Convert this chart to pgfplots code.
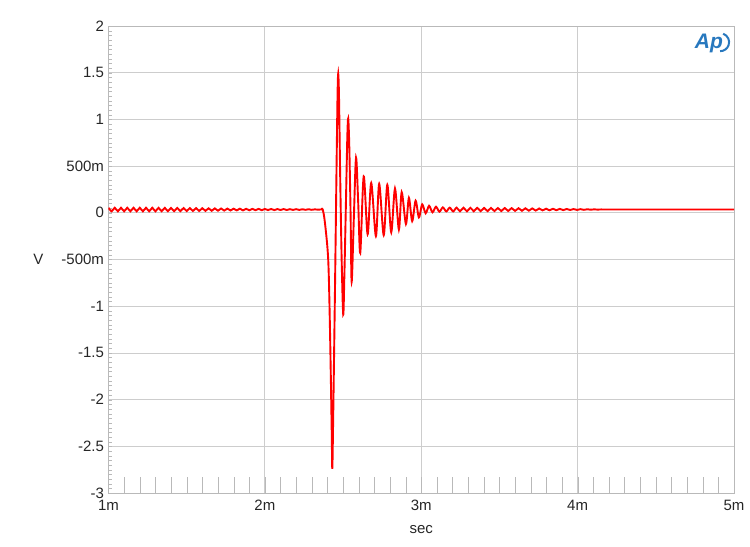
\documentclass[border=0pt]{standalone}
\usepackage{pgfplots}
\pgfplotsset{compat=1.18}
\usepackage{fontspec}
\setmainfont{Liberation Sans}
\definecolor{apblue}{RGB}{40,120,190}
\definecolor{gridgray}{RGB}{205,205,205}
\definecolor{framegray}{RGB}{185,185,185}
\pgfplotstableread{
t v
1.00 0.054
1.02 0.016
1.04 0.054
1.06 0.016
1.08 0.054
1.10 0.016
1.12 0.054
1.14 0.016
1.16 0.054
1.18 0.016
1.20 0.054
1.22 0.016
1.24 0.054
1.26 0.016
1.28 0.054
1.30 0.016
1.32 0.053
1.34 0.017
1.36 0.053
1.38 0.017
1.40 0.052
1.42 0.018
1.44 0.052
1.46 0.018
1.48 0.051
1.50 0.019
1.52 0.050
1.54 0.020
1.56 0.050
1.58 0.020
1.60 0.049
1.62 0.021
1.64 0.048
1.66 0.022
1.68 0.047
1.70 0.023
1.72 0.046
1.74 0.024
1.76 0.045
1.78 0.025
1.80 0.044
1.82 0.026
1.84 0.044
1.86 0.026
1.88 0.043
1.90 0.027
1.92 0.042
1.94 0.028
1.96 0.042
1.98 0.028
2.00 0.041
2.02 0.029
2.04 0.041
2.06 0.029
2.08 0.040
2.10 0.030
2.12 0.040
2.14 0.030
2.16 0.039
2.18 0.031
2.20 0.039
2.22 0.031
2.24 0.038
2.26 0.032
2.28 0.038
2.30 0.032
2.32 0.037
2.34 0.033
2.36 0.036
2.370 0.035
2.384 -0.105
2.405 -0.50
2.416 -1.22
2.427 -2.29
2.431 -2.74
2.436 -2.29
2.448 -0.86
2.459 0.58
2.465 1.29
2.469 1.49
2.474 1.25
2.482 0.35
2.491 -0.50
2.501 -1.09
2.508 -0.70
2.517 0.00
2.527 0.80
2.533 1.01
2.540 0.70
2.548 0.00
2.555 -0.74
2.569 -0.05
2.583 0.59
2.597 0.10
2.610 -0.43
2.632 0.39
2.657 -0.23
2.680 0.32
2.710 -0.25
2.731 0.31
2.760 -0.24
2.783 0.30
2.808 -0.21
2.832 0.26
2.857 -0.18
2.875 0.22
2.902 -0.12
2.921 0.16
2.942 -0.09
2.964 0.13
2.985 -0.05
3.006 0.09
3.028 -0.005
3.050 0.075
3.072 0.005
3.094 0.065
3.116 0.012
3.138 0.058
3.160 0.015
3.182 0.055
3.204 0.015
3.226 0.055
3.248 0.016
3.270 0.054
3.292 0.016
3.314 0.054
3.336 0.017
3.358 0.053
3.380 0.018
3.402 0.052
3.424 0.018
3.446 0.052
3.468 0.019
3.490 0.051
3.512 0.019
3.534 0.051
3.556 0.020
3.578 0.050
3.600 0.021
3.622 0.049
3.644 0.022
3.666 0.048
3.688 0.023
3.710 0.047
3.732 0.024
3.754 0.046
3.776 0.026
3.798 0.044
3.820 0.027
3.842 0.043
3.864 0.028
3.886 0.042
3.908 0.029
3.930 0.041
3.952 0.030
3.974 0.040
3.996 0.031
4.018 0.039
4.040 0.032
4.062 0.038
4.084 0.033
4.106 0.037
4.128 0.034
4.150 0.036
4.200 0.035
4.500 0.035
5.000 0.035
}\wave
\begin{document}
\begin{tikzpicture}
\begin{axis}[
  scale only axis,
  width=625.5pt, height=467pt,
  xmin=1, xmax=5, ymin=-3, ymax=2,
  xtick={1,2,3,4,5},
  xticklabels={1m,2m,3m,4m,5m},
  ytick={-3,-2.5,-2,-1.5,-1,-0.5,0,0.5,1,1.5,2},
  yticklabels={-3,-2.5,-2,-1.5,-1,-500m,0,500m,1,1.5,2},
  minor x tick num=9,
  minor y tick num=9,
  xtick pos=left, ytick pos=left,
  tick align=inside,
  major tick length=4pt,
  minor tick length=4pt,
  x tick style={/pgfplots/major tick length=16pt, color=framegray},
  minor x tick style={/pgfplots/minor tick length=16pt, color=framegray},
  y tick style={color=framegray},
  minor y tick style={color=framegray},
  grid=major,
  major grid style={gridgray, line width=0.8pt},
  axis line style={framegray, line width=0.8pt},
  tick label style={font=\fontsize{15}{17}\selectfont, text=black!85},
  xticklabel style={anchor=north, text height=11pt, text depth=2pt, yshift=-3pt},
  yticklabel style={xshift=-1pt},
  xlabel={sec},
  ylabel={V},
  every axis x label/.style={at={(axis description cs:0.5,0)}, anchor=center, yshift=-37pt, font=\fontsize{15}{17}\selectfont, text=black!85},
  every axis y label/.style={at={(axis description cs:0,0.5)}, anchor=center, xshift=-70pt, font=\fontsize{15}{17}\selectfont, text=black!85},
  clip=true,
]
\addplot[red, line width=1.9pt, smooth, tension=0.5] table[x=t, y=v] {\wave};
\node[text=apblue, font=\fontsize{21}{22}\selectfont\bfseries\itshape, inner sep=0pt] (ap) at (axis description cs:0.960,0.962) {Ap};
\draw[apblue, line width=2pt] ([xshift=0pt,yshift=10pt]ap.east) arc[start angle=70, end angle=-90, radius=9pt];
\end{axis}
\path ([xshift=-108.5pt,yshift=-53pt]current axis.south west) rectangle ([xshift=16pt,yshift=26pt]current axis.north east);
\end{tikzpicture}
\end{document}
